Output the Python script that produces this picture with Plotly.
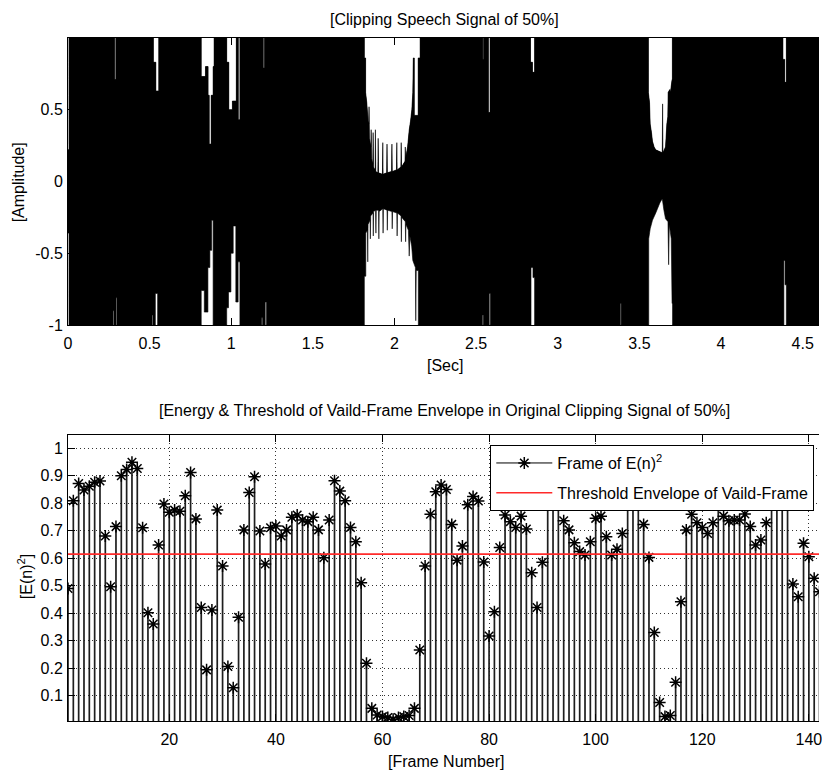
import plotly.graph_objects as go

# ---------------------------------------------------------------
# Clipped speech signal (50%): outer envelope of the waveform.
# Upper edge (time in s, amplitude) and lower edge of the trace.
# ---------------------------------------------------------------
sig_hi_t = [0.000, 0.006, 0.006,
            0.285, 0.285, 0.293, 0.293,
            0.523, 0.523, 0.538, 0.538, 0.556, 0.556,
            0.816, 0.816, 0.842, 0.842, 0.858, 0.858, 0.865, 0.865, 0.877, 0.877, 0.889, 0.889, 0.895, 0.895,
            0.972, 0.972, 0.985, 0.985, 1.007, 1.007, 1.031, 1.031, 1.043, 1.043, 1.053, 1.053,
            1.196, 1.196, 1.204, 1.204,
            1.815, 1.815, 1.823, 1.823, 1.830, 1.838, 1.842, 1.844, 1.846,
            1.855, 1.857, 1.859, 1.867, 1.869, 1.871, 1.881, 1.883, 1.885,
            1.898, 1.900, 1.902, 1.926, 1.928, 1.930, 1.952, 1.954, 1.956,
            1.982, 1.984, 1.986, 2.012, 2.014, 2.016, 2.039, 2.041, 2.043,
            2.064, 2.066, 2.068, 2.080, 2.090, 2.098, 2.106, 2.112, 2.115,
            2.121, 2.121, 2.145, 2.145, 2.157, 2.157,
            2.540, 2.540, 2.546, 2.546,
            2.575, 2.575, 2.585, 2.585,
            2.833, 2.833, 2.845, 2.845, 2.858, 2.858,
            3.555, 3.555, 3.562, 3.566, 3.574, 3.580, 3.590, 3.600, 3.640, 3.642, 3.644,
            3.660, 3.668, 3.674, 3.676, 3.686, 3.690, 3.700, 3.702, 3.702,
            4.379, 4.379, 4.390, 4.390, 4.400, 4.400,
            4.600]
sig_hi = [0.22, 0.22, 1.00,
          1.00, 0.71, 0.71, 1.00,
          1.00, 0.83, 0.83, 0.63, 0.63, 1.00,
          1.00, 0.73, 0.73, 0.80, 0.80, 0.60, 0.60, 0.26, 0.26, 0.60, 0.60, 0.80, 0.80, 1.00,
          1.00, 0.83, 0.83, 0.50, 0.50, 0.56, 0.56, 1.00, 1.00, 0.43, 0.43, 1.00,
          1.00, 0.79, 0.79, 1.00,
          1.00, 0.86, 0.86, 0.62, 0.55, 0.42, 0.40, 0.52, 0.30,
          0.24, 0.36, 0.16, 0.12, 0.34, 0.10, 0.08, 0.36, 0.07,
          0.06, 0.30, 0.06, 0.05, 0.27, 0.05, 0.06, 0.26, 0.06,
          0.07, 0.26, 0.07, 0.08, 0.27, 0.08, 0.10, 0.27, 0.10,
          0.14, 0.24, 0.16, 0.24, 0.36, 0.42, 0.50, 0.62, 0.86,
          0.86, 0.46, 0.46, 0.86, 0.86, 1.00,
          1.00, 0.85, 0.85, 1.00,
          1.00, 0.48, 0.48, 1.00,
          1.00, 0.83, 0.83, 0.76, 0.76, 1.00,
          1.00, 0.62, 0.55, 0.40, 0.34, 0.28, 0.24, 0.22, 0.20, 0.54, 0.20,
          0.24, 0.40, 0.45, 0.62, 0.64, 0.62, 0.71, 0.71, 1.00,
          1.00, 0.85, 0.85, 0.69, 0.69, 1.00,
          1.00]

sig_lo_t = [0.000, 0.006, 0.006,
            0.276, 0.276, 0.281, 0.281, 0.295, 0.295, 0.300, 0.300,
            0.515, 0.515, 0.520, 0.520, 0.535, 0.535, 0.549, 0.549,
            0.816, 0.816, 0.835, 0.835, 0.857, 0.857, 0.869, 0.869, 0.880, 0.880, 0.889, 0.889,
            0.972, 0.972, 0.983, 0.983, 0.998, 0.998, 1.012, 1.012, 1.028, 1.028, 1.042, 1.042, 1.053, 1.053,
            1.186, 1.186, 1.192, 1.192, 1.208, 1.208, 1.216, 1.216,
            1.815, 1.815, 1.824, 1.824, 1.834, 1.836, 1.838, 1.850, 1.852, 1.854,
            1.868, 1.870, 1.872, 1.884, 1.886, 1.888, 1.902, 1.904, 1.906,
            1.928, 1.930, 1.932, 1.954, 1.956, 1.958, 1.984, 1.986, 1.988,
            2.014, 2.016, 2.018, 2.040, 2.042, 2.044, 2.066, 2.068, 2.070,
            2.085, 2.090, 2.094, 2.105, 2.112, 2.128, 2.130, 2.133, 2.146, 2.146,
            2.538, 2.538, 2.544, 2.544, 2.580, 2.580, 2.587, 2.587,
            2.836, 2.836, 2.848, 2.848, 2.858, 2.858,
            3.383, 3.383, 3.388, 3.388,
            3.557, 3.557, 3.566, 3.580, 3.600, 3.625, 3.640, 3.650, 3.660, 3.675, 3.679, 3.683,
            3.695, 3.700, 3.703, 3.703,
            4.385, 4.385, 4.392, 4.392, 4.400, 4.400,
            4.600]
sig_lo = [-0.36, -0.36, -1.00,
          -1.00, -0.90, -0.90, -1.00, -1.00, -0.81, -0.81, -1.00,
          -1.00, -0.93, -0.93, -1.00, -1.00, -0.78, -0.78, -1.00,
          -1.00, -0.76, -0.76, -0.91, -0.91, -0.60, -0.60, -0.48, -0.48, -0.27, -0.27, -1.00,
          -1.00, -0.88, -0.88, -0.77, -0.77, -0.50, -0.50, -0.31, -0.31, -0.84, -0.84, -0.56, -0.56, -1.00,
          -1.00, -0.95, -0.95, -1.00, -1.00, -0.84, -0.84, -1.00,
          -1.00, -0.66, -0.66, -0.36, -0.34, -0.56, -0.30, -0.27, -0.40, -0.24,
          -0.22, -0.38, -0.21, -0.20, -0.36, -0.20, -0.20, -0.40, -0.21,
          -0.19, -0.36, -0.19, -0.20, -0.34, -0.20, -0.21, -0.33, -0.21,
          -0.22, -0.38, -0.22, -0.24, -0.42, -0.25, -0.28, -0.42, -0.30,
          -0.34, -0.52, -0.38, -0.45, -0.55, -0.60, -0.97, -0.62, -0.62, -1.00,
          -1.00, -0.93, -0.93, -1.00, -1.00, -0.78, -0.78, -1.00,
          -1.00, -0.60, -0.60, -0.67, -0.67, -1.00,
          -1.00, -0.85, -0.85, -1.00,
          -1.00, -0.40, -0.33, -0.27, -0.22, -0.15, -0.12, -0.20, -0.26, -0.28, -0.58, -0.30,
          -0.40, -0.85, -0.85, -1.00,
          -1.00, -0.55, -0.55, -0.72, -0.72, -1.00,
          -1.00]

sec_ticks = [0, 0.5, 1, 1.5, 2, 2.5, 3, 3.5, 4, 4.5]
sec_labels = ["0", "0.5", "1", "1.5", "2", "2.5", "3", "3.5", "4", "4.5"]
amp_ticks = [-1, -0.5, 0, 0.5]
amp_labels = ["-1", "-0.5", "0", "0.5"]

# ---------------------------------------------------------------
# Frame energy E(n)^2 and the valid-frame threshold
# ---------------------------------------------------------------
frames = list(range(1, 143))
energy = [
    0.490, 0.809, 0.872, 0.848, 0.862, 0.876, 0.881, 0.681, 0.496, 0.715,
    0.900, 0.923, 0.949, 0.926, 0.711, 0.402, 0.361, 0.648, 0.797, 0.767,
    0.775, 0.771, 0.827, 0.912, 0.743, 0.421, 0.194, 0.412, 0.775, 0.572,
    0.206, 0.129, 0.385, 0.703, 0.839, 0.896, 0.699, 0.579, 0.711, 0.717,
    0.681, 0.703, 0.749, 0.757, 0.739, 0.733, 0.749, 0.703, 0.602, 0.739,
    0.882, 0.844, 0.809, 0.712, 0.660, 0.511, 0.218, 0.054, 0.030, 0.024,
    0.021, 0.014, 0.021, 0.024, 0.028, 0.054, 0.266, 0.572, 0.760, 0.842,
    0.866, 0.850, 0.723, 0.593, 0.644, 0.794, 0.824, 0.808, 0.586, 0.317,
    0.405, 0.639, 0.757, 0.733, 0.712, 0.753, 0.706, 0.547, 0.421, 0.585,
    0.860, 0.880, 0.840, 0.736, 0.703, 0.656, 0.624, 0.612, 0.660, 0.745,
    0.753, 0.678, 0.612, 0.633, 0.690, 0.870, 0.900, 0.850, 0.723, 0.603,
    0.330, 0.075, 0.024, 0.028, 0.149, 0.442, 0.703, 0.760, 0.729, 0.712,
    0.690, 0.729, 0.850, 0.753, 0.736, 0.739, 0.739, 0.761, 0.715, 0.648,
    0.666, 0.729, 0.880, 0.900, 0.860, 0.830, 0.506, 0.460, 0.654, 0.605,
    0.527, 0.478,
]
threshold = 0.615

frame_ticks = [20, 40, 60, 80, 100, 120, 140]
energy_ticks = [0.1, 0.2, 0.3, 0.4, 0.5, 0.6, 0.7, 0.8, 0.9, 1.0]
energy_labels = ["0.1", "0.2", "0.3", "0.4", "0.5", "0.6", "0.7", "0.8", "0.9", "1"]

FONT = "Liberation Sans, Arial, sans-serif"
FS = 16

fig = go.Figure()

# waveform: upper edge, then lower edge filled up to the upper edge
fig.add_trace(go.Scatter(
    x=sig_hi_t, y=sig_hi, mode="lines", fill="tozeroy", fillcolor="black",
    line=dict(width=0.6, color="black", simplify=False),
    xaxis="x", yaxis="y", showlegend=False, hoverinfo="skip",
))
fig.add_trace(go.Scatter(
    x=sig_lo_t, y=sig_lo, mode="lines", fill="tonexty", fillcolor="black",
    line=dict(width=0.6, color="black", simplify=False),
    xaxis="x", yaxis="y", showlegend=False, hoverinfo="skip",
))

# stems from baseline 0 up to each frame energy
stem_x, stem_y = [], []
for f, e in zip(frames, energy):
    stem_x += [f, f, None]
    stem_y += [0, e, None]
fig.add_trace(go.Scatter(
    x=stem_x, y=stem_y, mode="lines",
    line=dict(color="#1e1e1e", width=1.7),
    xaxis="x2", yaxis="y2", showlegend=False, hoverinfo="skip",
))

star = dict(symbol="asterisk-open", size=10, color="black",
            line=dict(width=1.5, color="black"))
fig.add_trace(go.Scatter(
    x=frames, y=energy, mode="markers", marker=star,
    xaxis="x2", yaxis="y2", showlegend=False,
))

# legend entry for the stem series
fig.add_trace(go.Scatter(
    x=[None], y=[None], mode="lines+markers",
    line=dict(color="black", width=1), marker=star,
    name="Frame of E(n)<sup>2</sup>", legendgroup="energy",
    xaxis="x2", yaxis="y2",
))

# threshold line across all frames
fig.add_trace(go.Scatter(
    x=[frames[0], frames[-1]], y=[threshold, threshold], mode="lines",
    line=dict(color="#ff2a2a", width=1.6),
    name="Threshold Envelope of Vaild-Frame", legendgroup="threshold",
    xaxis="x2", yaxis="y2",
))

axis_common = dict(
    showline=True, linecolor="black", linewidth=1,
    ticks="inside", ticklen=7, tickcolor="black", tickwidth=1,
    tickfont=dict(family=FONT, size=FS, color="black"),
    zeroline=False, ticklabeloverflow="allow",
)

fig.update_layout(
    width=822, height=773,
    margin=dict(l=68, r=0, t=38, b=52),
    paper_bgcolor="white", plot_bgcolor="white",
    font=dict(family=FONT, size=FS, color="black"),
    xaxis=dict(domain=[0, 1], anchor="y", range=[0, 4.6],
               tickvals=sec_ticks, ticktext=sec_labels,
               mirror="ticks", showgrid=False, ticklabelstandoff=4,
               **axis_common),
    yaxis=dict(domain=[0.5798, 1], anchor="x", range=[-1, 0.999],
               tickvals=amp_ticks, ticktext=amp_labels,
               showgrid=False, ticklabelstandoff=1, **axis_common),
    xaxis2=dict(domain=[0, 1], anchor="y2", range=[1, 141.9],
                tickvals=frame_ticks, mirror="ticks", ticklabelstandoff=4,
                showgrid=True, gridcolor="#333333", griddash="1px,3px", gridwidth=1,
                **axis_common),
    yaxis2=dict(domain=[0, 0.4187], anchor="x2", range=[0.008, 1.048],
                tickvals=energy_ticks, ticktext=energy_labels, ticklabelstandoff=1,
                showgrid=True, gridcolor="#333333", griddash="1px,3px", gridwidth=1,
                **axis_common),
    legend=dict(x=0.5623, y=0.404, xanchor="left", yanchor="top",
                bgcolor="white", bordercolor="black", borderwidth=1,
                font=dict(family=FONT, size=FS, color="black"),
                itemwidth=56, tracegroupgap=6),
    annotations=[
        dict(text="[Clipping Speech Signal of 50%]", x=0.501, y=1.0278,
             xref="paper", yref="paper", showarrow=False,
             xanchor="center", yanchor="middle"),
        dict(text="[Sec]", x=0.502, y=0.5198, xref="paper", yref="paper",
             showarrow=False, xanchor="center", yanchor="middle"),
        dict(text="[Amplitude]", x=-0.0663, y=0.789, xref="paper", yref="paper",
             showarrow=False, textangle=-90, xanchor="center", yanchor="middle"),
        dict(text="[Energy & Threshold of Vaild-Frame Envelope in Original Clipping Signal of 50%]",
             x=0.501, y=0.4539, xref="paper", yref="paper", showarrow=False,
             xanchor="center", yanchor="middle"),
        dict(text="[Frame Number]", x=0.503, y=-0.060, xref="paper", yref="paper",
             showarrow=False, xanchor="center", yanchor="middle"),
        dict(text="[E(n)<sup>2</sup>]", x=-0.057, y=0.2108, xref="paper", yref="paper",
             showarrow=False, textangle=-90, xanchor="center", yanchor="middle"),
    ],
)

fig.write_html("out.html")
